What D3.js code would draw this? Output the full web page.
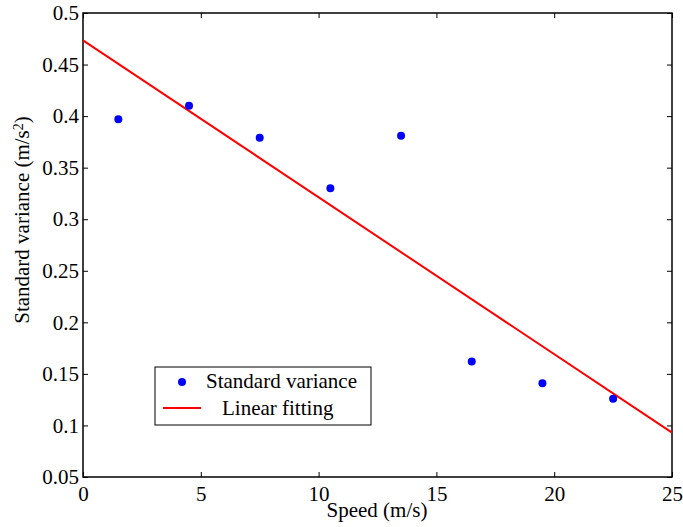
<!DOCTYPE html>
<html>
<head>
<meta charset="utf-8">
<script src="https://cdn.jsdelivr.net/npm/d3@7"></script>
<style>
  body { margin: 0; background: #fff; }
</style>
</head>
<body>
<div id="chart"></div>
<script>
var speeds = [1.5, 4.5, 7.5, 10.5, 13.5, 16.5, 19.5, 22.5];
var variances = [0.397, 0.410, 0.379, 0.330, 0.381, 0.162, 0.141, 0.126];
var fitX = [0, 25];
var fitY = [0.4735, 0.093];
var xTicks = [0, 5, 10, 15, 20, 25];
var yTicks = [0.05, 0.1, 0.15, 0.2, 0.25, 0.3, 0.35, 0.4, 0.45, 0.5];

var FONT = "Liberation Serif";

var width = 683, height = 527;
var margin = {left: 83, top: 13, right: 11, bottom: 50};
var plotW = width - margin.left - margin.right;
var plotH = height - margin.top - margin.bottom;

var svg = d3.select("#chart").append("svg")
    .attr("width", width)
    .attr("height", height)
    .attr("font-family", FONT);

var g = svg.append("g")
    .attr("transform", "translate(" + margin.left + "," + margin.top + ")");

var x = d3.scaleLinear().domain([0, 25]).range([0, plotW]);
var y = d3.scaleLinear().domain([0.05, 0.5]).range([plotH, 0]);

var fmt = function(d){ return String(+d.toFixed(2)); };

// axes, ticks pointing inward
var xAxis = g.append("g")
    .attr("transform", "translate(0," + plotH + ")")
    .call(d3.axisBottom(x).tickValues(xTicks).tickSize(-5).tickPadding(8).tickFormat(fmt));
var xTop = g.append("g")
    .call(d3.axisTop(x).tickValues(xTicks).tickSize(-5).tickFormat(""));
var yAxis = g.append("g")
    .call(d3.axisLeft(y).tickValues(yTicks).tickSize(-5).tickPadding(4).tickFormat(fmt));
var yRight = g.append("g")
    .attr("transform", "translate(" + plotW + ",0)")
    .call(d3.axisRight(y).tickValues(yTicks).tickSize(-5).tickFormat(""));

[xAxis, xTop, yAxis, yRight].forEach(function(a){
    a.attr("font-family", FONT).attr("font-size", 21);
    a.select(".domain").remove();
    a.selectAll("line").attr("stroke", "#000").attr("stroke-width", 1);
    a.selectAll("text").attr("fill", "#000");
});
xAxis.selectAll("text").attr("dy", "0.75em");

g.append("rect")
    .attr("width", plotW)
    .attr("height", plotH)
    .attr("fill", "none")
    .attr("stroke", "#000")
    .attr("stroke-width", 1.5);

// fitted line
var line = d3.line()
    .x(function(d){ return x(d[0]); })
    .y(function(d){ return y(d[1]); });
g.append("path")
    .datum(d3.zip(fitX, fitY))
    .attr("d", line)
    .attr("fill", "none")
    .attr("stroke", "#ff0000")
    .attr("stroke-width", 2);

// points
g.selectAll(".pt")
    .data(d3.zip(speeds, variances))
    .enter()
    .append("circle")
    .attr("class", "pt")
    .attr("cx", function(d){ return x(d[0]); })
    .attr("cy", function(d){ return y(d[1]); })
    .attr("r", 4)
    .attr("fill", "#0000ff");

// axis labels
svg.append("text")
    .attr("x", 377)
    .attr("y", 517)
    .attr("text-anchor", "middle")
    .attr("font-size", 21)
    .text("Speed (m/s)");

var yl = svg.append("text")
    .attr("transform", "translate(29,220) rotate(-90)")
    .attr("text-anchor", "middle")
    .attr("font-size", 21);
yl.append("tspan").text("Standard variance (m/s");
yl.append("tspan").attr("dy", "-0.45em").attr("font-size", 14).text("2");
yl.append("tspan").attr("dy", "0.3em").text(")");

// legend
var leg = svg.append("g");
leg.append("rect")
    .attr("x", 155).attr("y", 367)
    .attr("width", 216).attr("height", 58)
    .attr("fill", "#fff")
    .attr("stroke", "#000")
    .attr("stroke-width", 1);
leg.append("circle")
    .attr("cx", 182).attr("cy", 382).attr("r", 4)
    .attr("fill", "#0000ff");
leg.append("text")
    .attr("x", 206).attr("y", 388)
    .attr("font-size", 21)
    .text("Standard variance");
leg.append("line")
    .attr("x1", 163).attr("x2", 201)
    .attr("y1", 408).attr("y2", 408)
    .attr("stroke", "#ff0000")
    .attr("stroke-width", 2);
leg.append("text")
    .attr("x", 222).attr("y", 415)
    .attr("font-size", 21)
    .text("Linear fitting");
</script>
</body>
</html>
